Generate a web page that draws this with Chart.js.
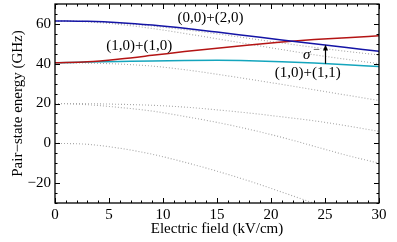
<!DOCTYPE html>
<html lang="en">
<head>
    <meta charset="UTF-8">
    <title>Pair-state energy</title>
    <script src="https://cdn.jsdelivr.net/npm/chart.js"></script>
    <style>
        body { margin: 0; background: #fff; }
        #box { width: 397px; height: 242px; }
    </style>
</head>
<body>
    <div id="box"><canvas id="myChart" width="397" height="242"></canvas></div>
    <script>
        // field values (kV/cm)
        const fields = [0, 3, 6, 9, 12, 15, 18, 21, 24, 27, 30];

        // highlighted pair states (GHz)
        const state0020 = [61.5, 61.3, 60.6, 59.4, 57.8, 55.9, 53.9, 51.9, 50.0, 48.1, 46.2];
        const state1010 = [40.5, 41.0, 42.4, 44.2, 46.1, 47.8, 49.4, 50.9, 52.1, 53.1, 54.0];
        const state1011 = [40.5, 40.8, 41.1, 41.4, 41.6, 41.7, 41.5, 41.0, 40.3, 39.5, 38.6];

        // other pair states (dotted)
        const otherA = [61.5, 61.2, 60.3, 58.9, 57.1, 55.0, 52.7, 50.4, 48.2, 46.2, 44.4];
        const otherB = [61.5, 61.0, 59.7, 57.7, 55.2, 52.5, 49.8, 47.1, 44.5, 42.2, 40.0];
        const otherC = [40.5, 40.3, 39.8, 38.8, 37.0, 34.7, 32.2, 29.6, 26.9, 24.2, 21.5];
        const otherD = [20, 19.9, 19.6, 19.1, 18.2, 16.8, 15.2, 13.3, 11.3, 8.8, 6.0];
        const otherE = [20, 19.4, 18.0, 16.2, 13.5, 10.5, 7.0, 3.0, -1.5, -6.0, -10.0];
        const otherF = [0, -0.5, -2.5, -5.5, -9.5, -14, -19, -24.5, -30.2, -36, -42];

        const xTicks = [0, 5, 10, 15, 20, 25, 30];
        const yTicks = [-20, 0, 20, 40, 60];

        // labels and the sigma- arrow (data coordinates)
        const labels = [
            { text: '(0,0)+(2,0)', x: 14.4, y: 63 },
            { text: '(1,0)+(1,0)', x: 7.8, y: 49 },
            { text: '(1,0)+(1,1)', x: 23.4, y: 35.5 }
        ];
        const sigmaArrow = { x: 25, from: 40.0, to: 49.6 };

        const FONT = '"Liberation Serif", "Times New Roman", Times, serif';

        function pts(arr) {
            return arr.map((v, i) => ({ x: fields[i], y: v }));
        }

        function mainLine(arr, color) {
            return {
                data: pts(arr), borderColor: color, borderWidth: 1.5,
                pointRadius: 0, cubicInterpolationMode: 'monotone', fill: false
            };
        }

        function dotLine(arr) {
            return {
                data: pts(arr), borderColor: '#a8a8a8', borderWidth: 1.1, borderDash: [1, 2],
                pointRadius: 0, cubicInterpolationMode: 'monotone', fill: false
            };
        }

        // frame with inward ticks + annotations
        const framePlugin = {
            id: 'frame',
            afterDraw(chart) {
                const c = chart.ctx, a = chart.chartArea;
                const xs = chart.scales.x, ys = chart.scales.y;
                c.save();
                c.strokeStyle = '#000';
                c.lineWidth = 1;
                c.beginPath();
                for (let v = 0; v <= 30; v++) {
                    const px = Math.round(xs.getPixelForValue(v)) + 0.5;
                    const len = v % 5 === 0 ? 5 : 2.5;
                    c.moveTo(px, a.bottom); c.lineTo(px, a.bottom - len);
                    c.moveTo(px, a.top); c.lineTo(px, a.top + len);
                }
                for (let v = -30; v <= 70; v += 5) {
                    const py = Math.round(ys.getPixelForValue(v)) + 0.5;
                    const len = v % 20 === 0 ? 5 : 2.5;
                    c.moveTo(a.left, py); c.lineTo(a.left + len, py);
                    c.moveTo(a.right, py); c.lineTo(a.right - len, py);
                }
                c.stroke();
                c.lineWidth = 1.3;
                c.strokeRect(a.left, a.top, a.right - a.left, a.bottom - a.top);

                // text labels
                c.fillStyle = '#000';
                c.font = '15px ' + FONT;
                c.textAlign = 'center';
                c.textBaseline = 'middle';
                labels.forEach(l => {
                    c.fillText(l.text, xs.getPixelForValue(l.x), ys.getPixelForValue(l.y));
                });

                // sigma minus
                const sx = xs.getPixelForValue(23.3), sy = ys.getPixelForValue(44.5);
                c.font = 'italic 15px ' + FONT;
                c.fillText('\u03c3', sx, sy);
                c.font = '12px ' + FONT;
                c.fillText('\u2212', sx + 10, sy - 5);

                // arrow
                const ax = Math.round(xs.getPixelForValue(sigmaArrow.x)) + 0.5;
                const y0 = ys.getPixelForValue(sigmaArrow.from);
                const y1 = ys.getPixelForValue(sigmaArrow.to);
                c.lineWidth = 1.2;
                c.beginPath();
                c.moveTo(ax, y0); c.lineTo(ax, y1 + 4);
                c.stroke();
                c.beginPath();
                c.moveTo(ax, y1); c.lineTo(ax - 2.5, y1 + 6); c.lineTo(ax + 2.5, y1 + 6);
                c.closePath();
                c.fill();
                c.restore();
            }
        };

        const chart = new Chart(document.getElementById('myChart'), {
            type: 'line',
            data: {
                datasets: [
                    mainLine(state0020, '#1414a6'),
                    mainLine(state1010, '#b41414'),
                    mainLine(state1011, '#14a5bd'),
                    dotLine(otherA),
                    dotLine(otherB),
                    dotLine(otherC),
                    dotLine(otherD),
                    dotLine(otherE),
                    dotLine(otherF)
                ]
            },
            options: {
                responsive: false,
                animation: false,
                devicePixelRatio: 1,
                layout: { padding: { left: 0, right: 18, top: 4, bottom: 0 } },
                plugins: {
                    legend: { display: false },
                    tooltip: { enabled: false }
                },
                scales: {
                    x: {
                        type: 'linear', min: 0, max: 30,
                        grid: { display: false, drawTicks: false },
                        border: { display: false },
                        afterBuildTicks: s => { s.ticks = xTicks.map(v => ({ value: v })); },
                        afterFit: s => { s.height = 39; s.paddingLeft = 0; s.paddingRight = 0; },
                        ticks: { color: '#000', padding: 3, font: { family: FONT, size: 15 } },
                        title: {
                            display: true, text: 'Electric field (kV/cm)', color: '#000',
                            font: { family: FONT, size: 15 }, padding: { top: 0, bottom: 4 }
                        }
                    },
                    y: {
                        type: 'linear', min: -30, max: 70,
                        grid: { display: false, drawTicks: false },
                        border: { display: false },
                        afterBuildTicks: s => { s.ticks = yTicks.map(v => ({ value: v })); },
                        afterFit: s => { s.width = 55; s.paddingTop = 0; s.paddingBottom = 0; },
                        ticks: {
                            color: '#000', padding: 4, font: { family: FONT, size: 15 },
                            callback: v => v < 0 ? '\u2212' + Math.abs(v) : String(v)
                        },
                        title: {
                            display: true, text: 'Pair\u2212state energy (GHz)', color: '#000',
                            font: { family: FONT, size: 15 }, padding: { top: 9, bottom: 0 }
                        }
                    }
                }
            },
            plugins: [framePlugin]
        });
    </script>
</body>
</html>
